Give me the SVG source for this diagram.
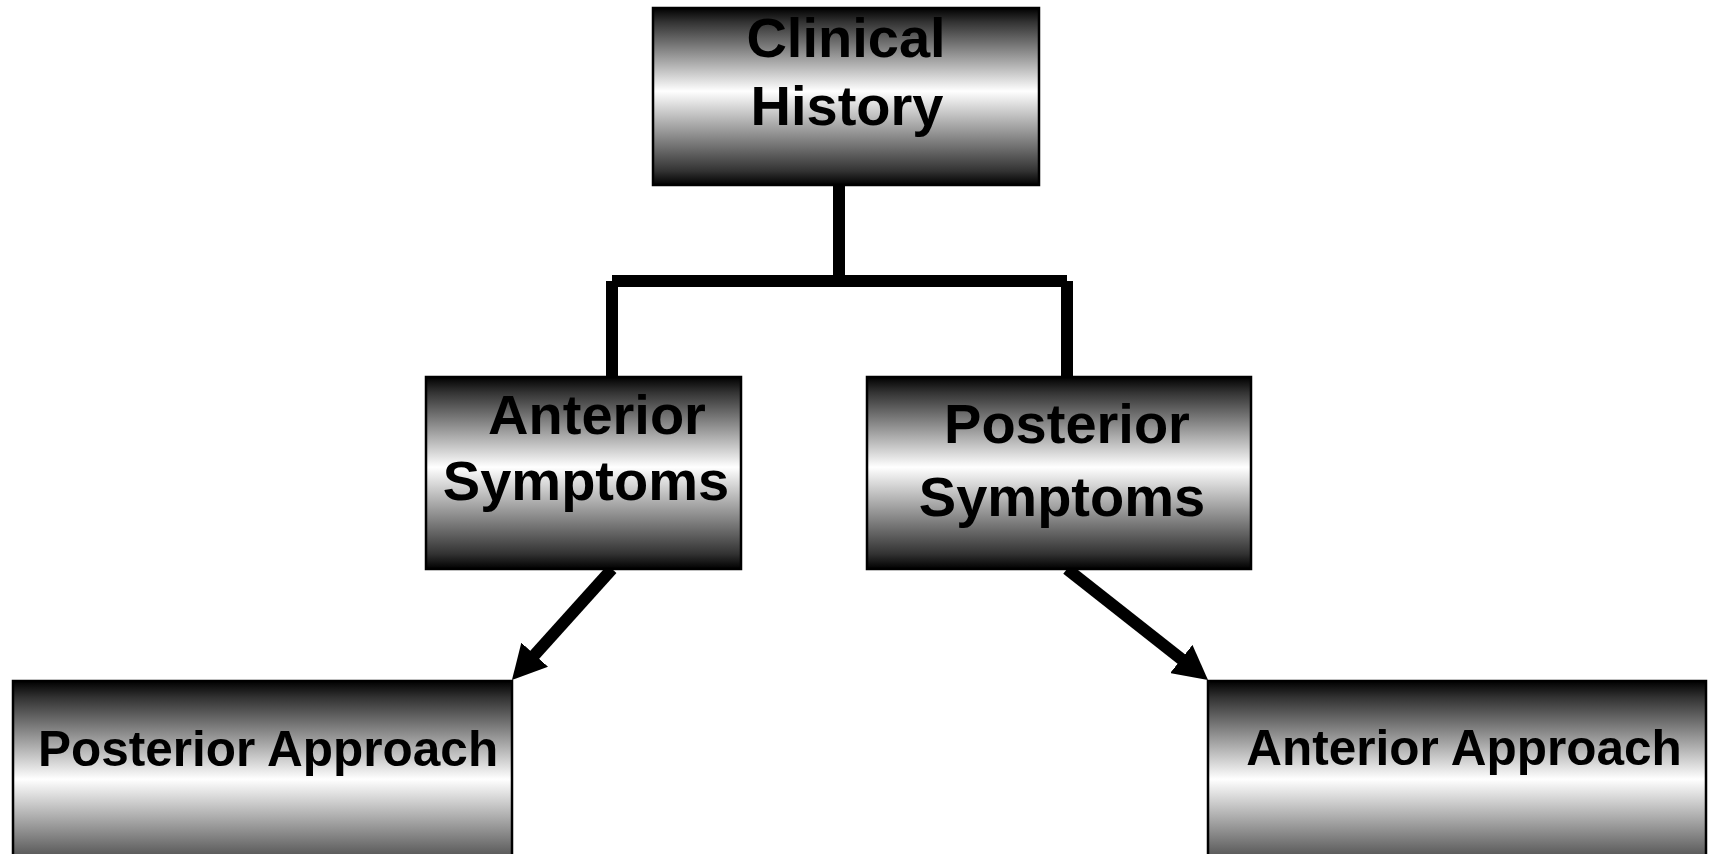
<svg xmlns="http://www.w3.org/2000/svg" width="1713" height="854" viewBox="0 0 1713 854">
  <defs>
    <linearGradient id="g" x1="0" y1="0" x2="0" y2="1">
      <stop offset="0" stop-color="#000"/>
      <stop offset="0.08" stop-color="#333"/>
      <stop offset="0.47" stop-color="#fff"/>
      <stop offset="0.92" stop-color="#333"/>
      <stop offset="1" stop-color="#000"/>
    </linearGradient>
    <marker id="ah" viewBox="0 0 34 36" refX="6" refY="18" markerWidth="34" markerHeight="36" markerUnits="userSpaceOnUse" orient="auto">
      <path d="M0,0 L34,18 L0,36 Z" fill="#000"/>
    </marker>
    <style>
      .box { fill: url(#g); stroke: #000; stroke-width: 2.5; }
      .t { font-family: "Liberation Sans", Arial, sans-serif; font-weight: bold; fill: #000; text-anchor: middle; }
      .big { font-size: 56px; }
      .mid { font-size: 49.5px; }
      .c { stroke: #000; stroke-width: 12; fill: none; stroke-linecap: butt; }
    </style>
  </defs>
  <rect width="1713" height="854" fill="#fff"/>

  <g id="connectors">
    <line class="c" x1="839" y1="185" x2="839" y2="275"/>
    <line class="c" x1="612" y1="281" x2="1067" y2="281"/>
    <line class="c" x1="612" y1="281" x2="612" y2="377"/>
    <line class="c" x1="1067" y1="281" x2="1067" y2="377"/>
    <line class="c" x1="612" y1="569" x2="530.7" y2="659.2" marker-end="url(#ah)"/>
    <line class="c" x1="1067" y1="569" x2="1186" y2="662.7" marker-end="url(#ah)"/>
  </g>

  <g id="clinical-history">
    <rect class="box" x="653" y="8" width="386" height="177"/>
    <text class="t big" x="846" y="57">Clinical</text>
    <text class="t big" x="847" y="125">History</text>
  </g>

  <g id="anterior-symptoms">
    <rect class="box" x="426" y="377" width="315" height="192"/>
    <text class="t big" x="597" y="434">Anterior</text>
    <text class="t big" x="586" y="500">Symptoms</text>
  </g>

  <g id="posterior-symptoms">
    <rect class="box" x="867" y="377" width="384" height="192"/>
    <text class="t big" x="1067" y="443">Posterior</text>
    <text class="t big" x="1062" y="516">Symptoms</text>
  </g>

  <g id="posterior-approach">
    <rect class="box" x="13" y="681" width="499" height="209"/>
    <text class="t mid" x="268" y="766">Posterior Approach</text>
  </g>

  <g id="anterior-approach">
    <rect class="box" x="1208" y="681" width="498" height="209"/>
    <text class="t mid" x="1464" y="765">Anterior Approach</text>
  </g>
</svg>
